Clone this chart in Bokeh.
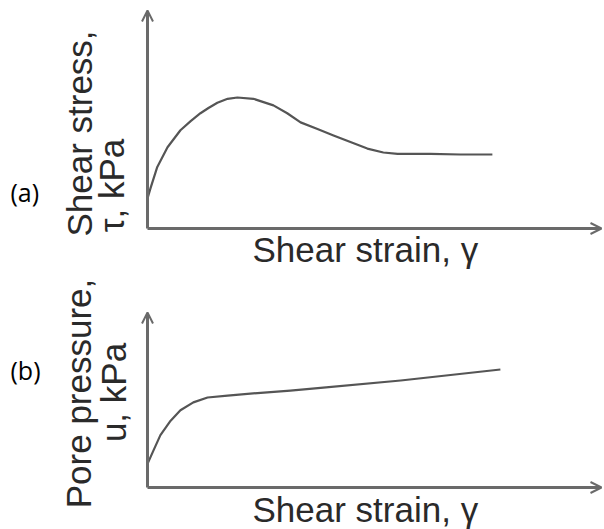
import math
from bokeh.plotting import figure
from bokeh.models import Arrow, OpenHead, Range1d
from bokeh.core.properties import value
from bokeh.embed import file_html
from bokeh.resources import INLINE

# ---- data (arbitrary units) ----
strain_a = [0, 0.07, 0.22, 0.45, 0.74, 0.97, 1.19, 1.37, 1.57, 1.80, 2.02, 2.38,
            2.83, 3.14, 3.44, 3.82, 4.18, 4.56, 4.94, 5.30, 5.62, 6.36, 7.03, 7.75]
stress_a = [23, 31, 47, 62, 75, 82, 88, 92, 96, 99, 100, 99,
            94, 88, 81, 76, 71, 66, 61, 58, 57, 57, 56.5, 56.5]

strain_b = [0, 0.13, 0.29, 0.52, 0.74, 1.03, 1.35, 1.80, 2.47, 3.21, 3.89, 5.69, 7.93]
pore_b = [18, 28, 40, 51, 59, 65, 68.7, 70.2, 72.1, 74.0, 76.0, 81.7, 90.1]

x_label = "Shear strain, \u03b3"
ylab_a = ["Shear stress,", "\u03c4, kPa"]
ylab_b = ["Pore pressure,", "u, kPa"]
tags = ["(a)", "(b)"]

# ---- layout constants (pixels of the page image) ----
W, H = 604, 529
XPX = 44.5          # px per strain unit
YPX = 1.31          # px per value unit
ORIGIN_X = 147
ORIGIN_YA = 228
ORIGIN_YB = 487
FONT = "Liberation Sans"
FS = "35px"
SHIFT = 11          # compensation of text baseline placement
TXT = "#2a2a2a"
LINE = "#555555"
AXC = "#6a6a6a"

p = figure(width=W, height=H, output_backend="svg", toolbar_location=None,
           x_axis_location=None, y_axis_location=None, min_border=0,
           outline_line_color=None, background_fill_color="white")
p.grid.visible = False
p.x_range = Range1d((0 - ORIGIN_X) / XPX, (W - ORIGIN_X) / XPX)
p.y_range = Range1d((ORIGIN_YA - H) / YPX, ORIGIN_YA / YPX)
p.extra_y_ranges = {"b": Range1d((ORIGIN_YB - H) / YPX, ORIGIN_YB / YPX)}


def dx(px):
    return (px - ORIGIN_X) / XPX


def panel(rname, origin_y, xs, ys, ytip, ylabels, tag, tag_base,
          lab_cy, base1, base2, xlab_base):
    def dy(py):
        return (origin_y - py) / YPX

    p.add_layout(Arrow(end=OpenHead(size=11, line_width=2, line_color=AXC),
                       x_start=0, y_start=0, x_end=0, y_end=dy(ytip),
                       line_width=3, line_color=AXC, y_range_name=rname))
    p.add_layout(Arrow(end=OpenHead(size=11, line_width=2, line_color=AXC),
                       x_start=0, y_start=0, x_end=dx(601), y_end=0,
                       line_width=3, line_color=AXC, y_range_name=rname))

    p.line(xs, ys, line_width=2.2, line_color=LINE, line_join="round",
           y_range_name=rname)

    p.text(x=[dx(252)], y=[dy(xlab_base - SHIFT)], text=[x_label],
           text_font=value(FONT), text_font_size=FS, text_color=TXT,
           text_align="left", text_baseline="alphabetic", y_range_name=rname)
    p.text(x=[dx(base1 - SHIFT), dx(base2 - SHIFT)],
           y=[dy(lab_cy[0]), dy(lab_cy[1])],
           text=ylabels, angle=math.pi / 2, text_font=value(FONT),
           text_font_size=FS, text_color=TXT, text_align="center",
           text_baseline="alphabetic", y_range_name=rname)
    p.text(x=[dx(10)], y=[dy(tag_base - 9)], text=[tag],
           text_font=value("Open Sans"), text_font_size="25px",
           text_color="#000000", text_align="left",
           text_baseline="alphabetic", y_range_name=rname)


panel("default", ORIGIN_YA, strain_a, stress_a, 10, ylab_a, tags[0], 200,
      (133, 185), 90, 122, 260)
panel("b", ORIGIN_YB, strain_b, pore_b, 312, ylab_b, tags[1], 378,
      (393, 392), 89, 124, 520)

open("out.html", "w").write(file_html(p, INLINE))
